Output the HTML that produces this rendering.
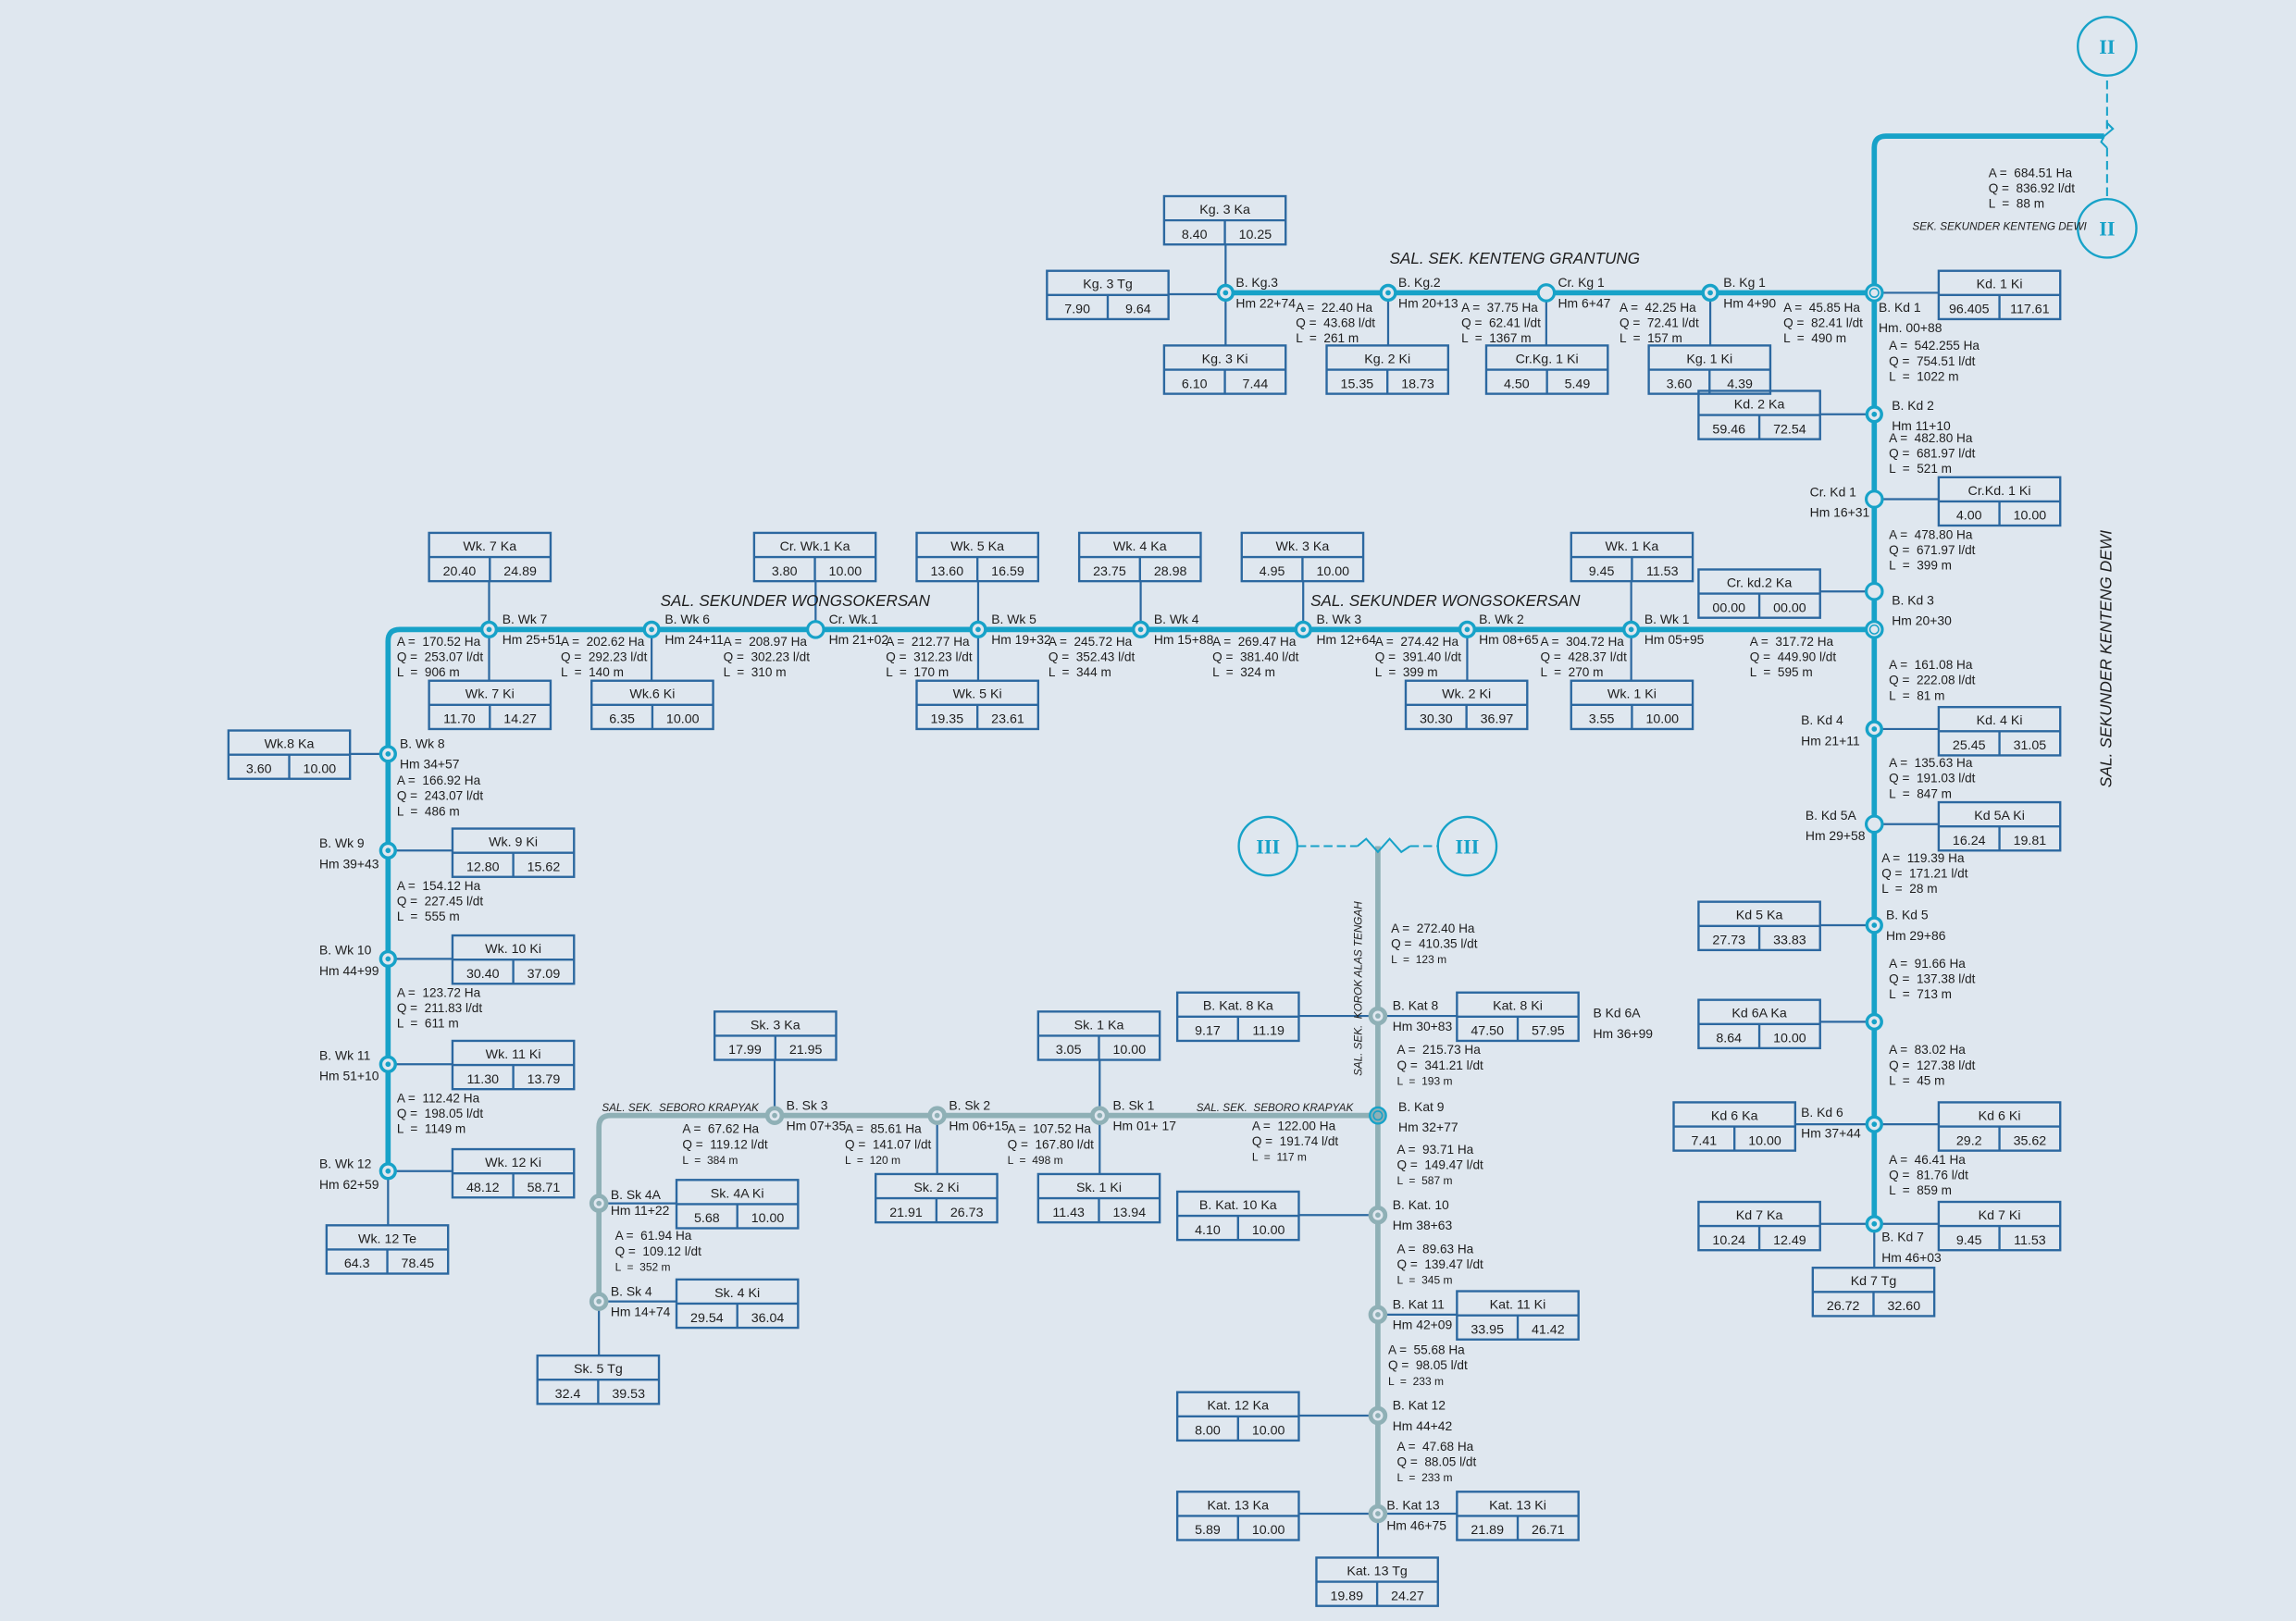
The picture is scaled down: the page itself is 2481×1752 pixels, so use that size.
<!DOCTYPE html>
<html><head><meta charset="utf-8">
<style>
html,body{margin:0;padding:0;background:#dfe7ef;}
svg{display:block;font-family:"Liberation Sans",sans-serif;}
text{white-space:pre;}
</style></head>
<body>
<svg id="s" width="2481" height="1752" viewBox="0 0 1568 1107.3" xmlns="http://www.w3.org/2000/svg">
<rect x="0" y="0" width="1568" height="1108" fill="#dfe7ef"/>
<g id="lines"></g><g id="boxes"></g><g id="nodes"></g><g id="txt" fill="#1e1e1e"></g>
</svg>
<script>
var NS="http://www.w3.org/2000/svg";
var C="#17a2c8",B="#2c68a0",G="#8fb0b6";
function el(p,t,a,txt){var e=document.createElementNS(NS,t);for(var k in a)e.setAttribute(k,a[k]);if(txt!==undefined)e.textContent=txt;document.getElementById(p).appendChild(e);return e;}
function pth(d,c,w,extra){var a={d:d,stroke:c,"stroke-width":w,fill:"none"};for(var k in extra)a[k]=extra[k];el("lines","path",a);}
function t(x,y,s,sz,extra){var a={x:x,y:y,"font-size":sz||8.6,"xml:space":"preserve"};for(var k in extra)a[k]=extra[k];el("txt","text",a,s);}
function box(x,y,ti,v1,v2){var w=83,h=33;
 el("boxes","rect",{x:x,y:y,width:w,height:h,fill:"none",stroke:B,"stroke-width":1.5});
 el("boxes","line",{x1:x,y1:y+16.5,x2:x+w,y2:y+16.5,stroke:B,"stroke-width":1.5});
 el("boxes","line",{x1:x+w/2,y1:y+16.5,x2:x+w/2,y2:y+h,stroke:B,"stroke-width":1.5});
 t(x+w/2,y+12,ti,9,{"text-anchor":"middle"});t(x+w/4,y+29,v1,9,{"text-anchor":"middle"});t(x+w*0.75,y+29,v2,9,{"text-anchor":"middle"});}
function node(x,y,type,col){col=col||C;
 if(type=="d"){el("nodes","circle",{cx:x,cy:y,r:5.5,fill:"#dfe7ef",stroke:col,"stroke-width":2});el("nodes","circle",{cx:x,cy:y,r:3,fill:"none",stroke:col,"stroke-width":1});}
 else if(type=="o"){el("nodes","circle",{cx:x,cy:y,r:5.5,fill:"#dfe7ef",stroke:col,"stroke-width":2});}
 else if(type=="g"){el("nodes","circle",{cx:x,cy:y,r:5,fill:"#dfe7ef",stroke:col,"stroke-width":3});el("nodes","circle",{cx:x,cy:y,r:1.8,fill:col});}
 else if(type=="gd"){el("nodes","circle",{cx:x,cy:y,r:5.5,fill:col,stroke:C,"stroke-width":1.5});el("nodes","circle",{cx:x,cy:y,r:3,fill:"none",stroke:C,"stroke-width":1});}
 else {el("nodes","circle",{cx:x,cy:y,r:5,fill:"#dfe7ef",stroke:col,"stroke-width":2.2});el("nodes","circle",{cx:x,cy:y,r:1.8,fill:col});}}
function aql(x,y,A,Q,L,sm){var s=8.6;t(x,y,"A =  "+A+" Ha",s);t(x,y+10.5,"Q =  "+Q+" l/dt",s);t(x,y+21,"L  =  "+L+" m",sm?7.6:s);}
function lbl(x,y,a,b){t(x,y,a,8.8);t(x,y+14,b,8.8);}

pth("M1280,836 L1280,101 Q1280,93 1288,93 L1437,93",C,3.6);
pth("M837,200 L1280,200",C,3.6);
pth("M1280,430 L273,430 Q265,430 265,438 L265,800",C,3.6);
pth("M1439,88 L1439,52",C,1.3,{"stroke-dasharray":"6,3"});
pth("M1437,93 L1443,88 L1439,84 L1439,88",C,1.3);
pth("M1437,93 L1435,97 L1439,101",C,1.3);
pth("M1439,101 L1439,136",C,1.3,{"stroke-dasharray":"6,3"});
el("lines","circle",{cx:1439,cy:31.6,r:20,fill:"none",stroke:C,"stroke-width":1.5});
el("lines","circle",{cx:1439,cy:156,r:20,fill:"none",stroke:C,"stroke-width":1.5});
t(1439,36.5,"II",14,{"text-anchor":"middle","font-family":"Liberation Serif,serif","font-weight":"bold",fill:C});
t(1439,161,"II",14,{"text-anchor":"middle","font-family":"Liberation Serif,serif","font-weight":"bold",fill:C});
pth("M941,1034 L941,578",G,3.6);
pth("M941,762 L417,762 Q409,762 409,770 L409,889",G,3.6);
pth("M927,578 L933,573 L941,582 L949,573 L957,582 L963,578",C,1.3);
pth("M886,578 L927,578",C,1.3,{"stroke-dasharray":"6,3"});
pth("M963,578 L982,578",C,1.3,{"stroke-dasharray":"6,3"});
el("lines","circle",{cx:866,cy:578,r:20,fill:"none",stroke:C,"stroke-width":1.5});
el("lines","circle",{cx:1002,cy:578,r:20,fill:"none",stroke:C,"stroke-width":1.5});
t(866,583,"III",14,{"text-anchor":"middle","font-family":"Liberation Serif,serif","font-weight":"bold",fill:C});
t(1002,583,"III",14,{"text-anchor":"middle","font-family":"Liberation Serif,serif","font-weight":"bold",fill:C});

function cn(x1,y1,x2,y2){el("lines","line",{x1:x1,y1:y1,x2:x2,y2:y2,stroke:B,"stroke-width":1.4});}
cn(837,167,837,236);cn(798,201,837,201);cn(948,200,948,236);cn(1056,200,1056,236);cn(1168,200,1168,236);
cn(1243,283,1280,283);cn(1280,200,1324,200);cn(1280,341,1324,341);cn(1243,404,1280,404);
cn(1280,498,1324,498);cn(1280,563,1324,563);cn(1243,632,1280,632);cn(1243,698,1280,698);
cn(1226,768,1324,768);cn(1243,836,1324,836);cn(1280,836,1280,866);
cn(334,397,334,465);cn(445,430,445,465);cn(557,397,557,430);cn(668,397,668,465);cn(779,397,779,430);
cn(890,397,890,430);cn(1002,430,1002,465);cn(1114,397,1114,465);
cn(239,515,265,515);cn(265,581,309,581);cn(265,655,309,655);cn(265,727,309,727);cn(265,800,309,800);cn(265,800,265,837);
cn(529,724,529,762);cn(751,724,751,802);cn(640,762,640,802);cn(887,694,995,694);
cn(409,822,462,822);cn(409,889,462,889);cn(409,889,409,926);
cn(887,830,941,830);cn(941,898,995,898);cn(887,967,941,967);cn(887,1034,995,1034);cn(941,1034,941,1064);

box(795,134,"Kg. 3 Ka","8.40","10.25");box(715,185,"Kg. 3 Tg","7.90","9.64");box(795,236,"Kg. 3 Ki","6.10","7.44");
box(906,236,"Kg. 2 Ki","15.35","18.73");box(1015,236,"Cr.Kg. 1 Ki","4.50","5.49");box(1126,236,"Kg. 1 Ki","3.60","4.39");
box(1160,267,"Kd. 2 Ka","59.46","72.54");box(1324,185,"Kd. 1 Ki","96.405","117.61");box(1324,326,"Cr.Kd. 1 Ki","4.00","10.00");
box(1160,389,"Cr. kd.2 Ka","00.00","00.00");box(1324,483,"Kd. 4 Ki","25.45","31.05");box(1324,548,"Kd 5A Ki","16.24","19.81");
box(1160,616,"Kd 5 Ka","27.73","33.83");box(1160,683,"Kd 6A Ka","8.64","10.00");box(1143,753,"Kd 6 Ka","7.41","10.00");
box(1324,753,"Kd 6 Ki","29.2","35.62");box(1160,821,"Kd 7 Ka","10.24","12.49");box(1324,821,"Kd 7 Ki","9.45","11.53");
box(1238,866,"Kd 7 Tg","26.72","32.60");
box(293,364,"Wk. 7 Ka","20.40","24.89");box(515,364,"Cr. Wk.1 Ka","3.80","10.00");box(626,364,"Wk. 5 Ka","13.60","16.59");
box(737,364,"Wk. 4 Ka","23.75","28.98");box(848,364,"Wk. 3 Ka","4.95","10.00");box(1073,364,"Wk. 1 Ka","9.45","11.53");
box(293,465,"Wk. 7 Ki","11.70","14.27");box(404,465,"Wk.6 Ki","6.35","10.00");box(626,465,"Wk. 5 Ki","19.35","23.61");
box(960,465,"Wk. 2 Ki","30.30","36.97");box(1073,465,"Wk. 1 Ki","3.55","10.00");
box(156,499,"Wk.8 Ka","3.60","10.00");box(309,566,"Wk. 9 Ki","12.80","15.62");box(309,639,"Wk. 10 Ki","30.40","37.09");
box(309,711,"Wk. 11 Ki","11.30","13.79");box(309,785,"Wk. 12 Ki","48.12","58.71");box(223,837,"Wk. 12 Te","64.3","78.45");
box(488,691,"Sk. 3 Ka","17.99","21.95");box(709,691,"Sk. 1 Ka","3.05","10.00");box(804,678,"B. Kat. 8 Ka","9.17","11.19");
box(995,678,"Kat. 8 Ki","47.50","57.95");box(598,802,"Sk. 2 Ki","21.91","26.73");box(709,802,"Sk. 1 Ki","11.43","13.94");
box(462,806,"Sk. 4A Ki","5.68","10.00");box(462,874,"Sk. 4 Ki","29.54","36.04");box(367,926,"Sk. 5 Tg","32.4","39.53");
box(804,814,"B. Kat. 10 Ka","4.10","10.00");box(995,882,"Kat. 11 Ki","33.95","41.42");box(804,951,"Kat. 12 Ka","8.00","10.00");
box(804,1019,"Kat. 13 Ka","5.89","10.00");box(995,1019,"Kat. 13 Ki","21.89","26.71");box(899,1064,"Kat. 13 Tg","19.89","24.27");

[837,948,1168].forEach(function(x){node(x,200);});node(1056,200,"o");node(1280,200,"d");
node(1280,283);node(1280,341,"o");node(1280,404,"o");node(1280,430,"d");node(1280,498);node(1280,563,"o");
node(1280,632);node(1280,698);node(1280,768);node(1280,836);
[334,445,668,779,890,1002,1114].forEach(function(x){node(x,430);});node(557,430,"o");
[515,581,655,727,800].forEach(function(y){node(265,y);});
[529,640,751].forEach(function(x){node(x,762,"g",G);});node(941,762,"gd",G);
node(409,822,"g",G);node(409,889,"g",G);
[694,830,898,967,1034].forEach(function(y){node(941,y,"g",G);});

aql(885,213,"22.40","43.68","261");aql(998,213,"37.75","62.41","1367");aql(1106,213,"42.25","72.41","157");aql(1218,213,"45.85","82.41","490");
aql(1290,239,"542.255","754.51","1022");aql(1290,302,"482.80","681.97","521");aql(1290,368,"478.80","671.97","399");
aql(1195,441,"317.72","449.90","595");aql(1290,457,"161.08","222.08","81");aql(1290,524,"135.63","191.03","847");
aql(1285,589,"119.39","171.21","28");aql(1290,661,"91.66","137.38","713");aql(1290,720,"83.02","127.38","45");
aql(1290,795,"46.41","81.76","859");aql(1358,121,"684.51","836.92","88");
aql(271,441,"170.52","253.07","906");aql(383,441,"202.62","292.23","140");aql(494,441,"208.97","302.23","310");
aql(605,441,"212.77","312.23","170");aql(716,441,"245.72","352.43","344");aql(828,441,"269.47","381.40","324");
aql(939,441,"274.42","391.40","399");aql(1052,441,"304.72","428.37","270");
aql(271,536,"166.92","243.07","486");aql(271,608,"154.12","227.45","555");aql(271,681,"123.72","211.83","611");aql(271,753,"112.42","198.05","1149");
aql(466,774,"67.62","119.12","384",1);aql(577,774,"85.61","141.07","120",1);aql(688,774,"107.52","167.80","498",1);
aql(855,772,"122.00","191.74","117",1);aql(950,637,"272.40","410.35","123",1);aql(954,720,"215.73","341.21","193",1);
aql(954,788,"93.71","149.47","587",1);aql(954,856,"89.63","139.47","345",1);aql(948,925,"55.68","98.05","233",1);
aql(954,991,"47.68","88.05","233",1);aql(420,847,"61.94","109.12","352",1);

lbl(844,196,"B. Kg.3","Hm 22+74");lbl(955,196,"B. Kg.2","Hm 20+13");lbl(1064,196,"Cr. Kg 1","Hm 6+47");lbl(1177,196,"B. Kg 1","Hm 4+90");
lbl(1283,213,"B. Kd 1","Hm. 00+88");lbl(1292,280,"B. Kd 2","Hm 11+10");lbl(1236,339,"Cr. Kd 1","Hm 16+31");
lbl(1292,413,"B. Kd 3","Hm 20+30");lbl(1230,495,"B. Kd 4","Hm 21+11");lbl(1233,560,"B. Kd 5A","Hm 29+58");
lbl(1288,628,"B. Kd 5","Hm 29+86");lbl(1088,695,"B Kd 6A","Hm 36+99");lbl(1230,763,"B. Kd 6","Hm 37+44");lbl(1285,848,"B. Kd 7","Hm 46+03");
lbl(343,426,"B. Wk 7","Hm 25+51");lbl(454,426,"B. Wk 6","Hm 24+11");lbl(566,426,"Cr. Wk.1","Hm 21+02");lbl(677,426,"B. Wk 5","Hm 19+32");
lbl(788,426,"B. Wk 4","Hm 15+88");lbl(899,426,"B. Wk 3","Hm 12+64");lbl(1010,426,"B. Wk 2","Hm 08+65");lbl(1123,426,"B. Wk 1","Hm 05+95");
lbl(273,511,"B. Wk 8","Hm 34+57");lbl(218,579,"B. Wk 9","Hm 39+43");lbl(218,652,"B. Wk 10","Hm 44+99");
lbl(218,724,"B. Wk 11","Hm 51+10");lbl(218,798,"B. Wk 12","Hm 62+59");
lbl(537,758,"B. Sk 3","Hm 07+35");lbl(648,758,"B. Sk 2","Hm 06+15");lbl(760,758,"B. Sk 1","Hm 01+ 17");
t(417,819,"B. Sk 4A",8.8);t(417,830,"Hm 11+22",8.8);lbl(417,885,"B. Sk 4","Hm 14+74");
lbl(951,690,"B. Kat 8","Hm 30+83");lbl(955,759,"B. Kat 9","Hm 32+77");lbl(951,826,"B. Kat. 10","Hm 38+63");
lbl(951,894,"B. Kat 11","Hm 42+09");lbl(951,963,"B. Kat 12","Hm 44+42");lbl(947,1031,"B. Kat 13","Hm 46+75");

t(949,180,"SAL. SEK. KENTENG GRANTUNG",10.8,{"font-style":"italic"});
t(451,414,"SAL. SEKUNDER WONGSOKERSAN",10.8,{"font-style":"italic"});
t(895,414,"SAL. SEKUNDER WONGSOKERSAN",10.8,{"font-style":"italic"});
t(1306,157,"SEK. SEKUNDER KENTENG DEWI",7.4,{"font-style":"italic"});
t(411,759,"SAL. SEK.  SEBORO KRAPYAK",7.4,{"font-style":"italic"});
t(817,759,"SAL. SEK.  SEBORO KRAPYAK",7.4,{"font-style":"italic"});
t(0,0,"SAL. SEKUNDER KENTENG DEWI",11,{"font-style":"italic",transform:"translate(1442,538) rotate(-90)"});
t(0,0,"SAL. SEK.  KOROK ALAS TENGAH",7.4,{"font-style":"italic",transform:"translate(930,735) rotate(-90)"});
</script>
</body></html>
